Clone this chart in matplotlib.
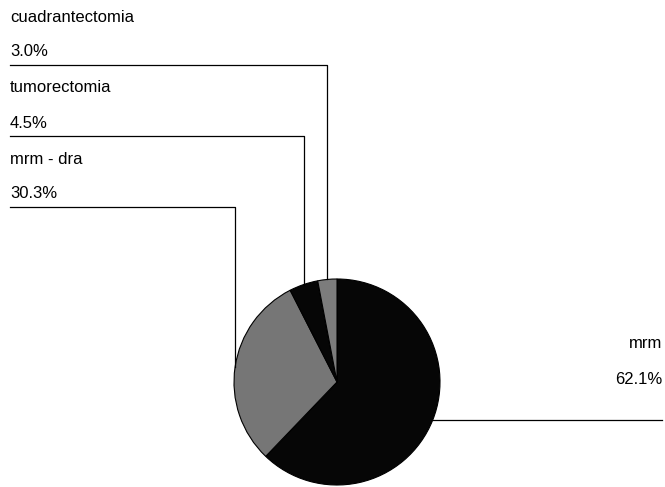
import numpy as np
import matplotlib.pyplot as plt

# tipos de cirugia
labels = ['mrm', 'mrm - dra', 'tumorectomia', 'cuadrantectomia']
pcts = [62.1, 30.3, 4.5, 3.0]
colors = ['#060606', '#767676', '#060606', '#7c7c7c']

W, H = 665, 487
fig = plt.figure(figsize=(W / 100, H / 100), dpi=100)
ax = fig.add_axes([0, 0, 1, 1])

# positions given from the top edge, in pixels
def Y(y):
    return H - y

cx, cy, r = 337, Y(382), 103
wedges, _ = ax.pie(pcts, colors=colors, startangle=90, counterclock=False,
                   center=(cx, cy), radius=r, frame=True,
                   wedgeprops=dict(edgecolor='black', linewidth=0.8))
ax.set_xlim(0, W)
ax.set_ylim(0, H)
ax.set_aspect('equal')
ax.axis('off')

fs = 12
font = 'Liberation Sans'

def mid_point(w):
    a = np.deg2rad((w.theta1 + w.theta2) / 2)
    return cx + r * np.cos(a), cy + r * np.sin(a)

# left side labels, stacked from the top
left = [3, 2, 1]
for k, i in enumerate(left):
    y0 = 17 + k * 71
    ax.text(10, Y(y0), labels[i], ha='left', va='center', fontsize=fs, family=font)
    ax.text(10, Y(y0 + 35), '%.1f%%' % pcts[i], ha='left', va='center', fontsize=fs, family=font)
    px, py = mid_point(wedges[i])
    ly = Y(y0 + 48)
    ax.plot([10, px, px], [ly, ly, py], color='black', lw=0.9)

# right side label
px, py = mid_point(wedges[0])
ax.text(662, Y(343), labels[0], ha='right', va='center', fontsize=fs, family=font)
ax.text(662, Y(379), '%.1f%%' % pcts[0], ha='right', va='center', fontsize=fs, family=font)
ax.plot([px, 662], [py, py], color='black', lw=0.9)

fig.savefig('out.png', dpi=100)
